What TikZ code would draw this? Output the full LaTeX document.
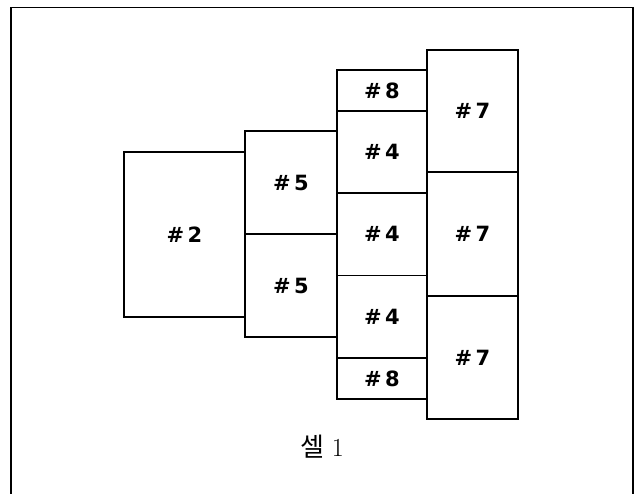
\documentclass[tikz,border=0pt]{standalone}
\usepackage{fontspec}
\newfontfamily\boxfont{DejaVu Sans}
\newfontfamily\cjk{Noto Sans CJK KR}
\tikzset{cell/.style={rectangle,draw,line width=1.3pt,inner sep=0pt,
    font=\boxfont\bfseries\fontsize{21}{24}\selectfont},
  frame/.style={line width=1.2pt}}

\begin{document}
\begin{tikzpicture}[x=1pt,y=-1pt]
  \path[use as bounding box] (0,0) rectangle (637,494);
  \draw[frame] (11,494)--(11,7.5)--(633,7.5)--(633,494);
  \foreach \x/\y/\w/\h/\v/\n in {184.5/234.5/121/165/2/a,
      291/182.5/92/103/5/b1,291/285.5/92/103/5/b2,
      382/90.5/90/41/8/c1,382/152/90/82/4/c2,382/234.25/90/82.5/4/c3,
      382/316.75/90/82.5/4/c4,382/378.5/90/41/8/c5,
      472.5/111/91/122/7/d1,472.5/234/91/124/7/d2,472.5/357.5/91/123/7/d3}{
    \node[cell,minimum width=\w pt,minimum height=\h pt] (\n) at (\x,\y) {\#\,\v};
  }
  \node[font=\fontsize{26}{30}\selectfont] (caption) at (322,447) {{\cjk 셀} 1};
\end{tikzpicture}
\end{document}
